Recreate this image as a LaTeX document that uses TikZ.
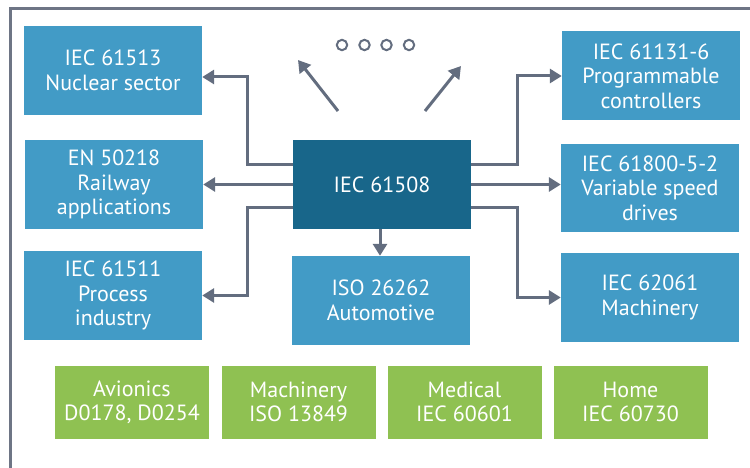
\documentclass[tikz,border=0pt]{standalone}
\usepackage{fontspec}
\setmainfont{PT Sans}
\usetikzlibrary{arrows.meta,calc}
\definecolor{boxblue}{RGB}{66,155,198}
\definecolor{darkblue}{RGB}{24,102,138}
\definecolor{leaf}{RGB}{143,193,82}
\definecolor{arrgray}{RGB}{99,109,127}
\definecolor{framegray}{RGB}{110,117,133}
\begin{document}
\begin{tikzpicture}[x=1pt,y=-1pt,
  stdbox/.style={rectangle,fill=boxblue,text=white,minimum width=178pt,minimum height=89pt,inner sep=0pt,align=center,font=\fontsize{22}{24.5}\selectfont},
  corebox/.style={stdbox,fill=darkblue},
  appbox/.style={rectangle,fill=leaf,text=white,minimum width=154pt,minimum height=73pt,inner sep=0pt,align=center,font=\fontsize{22}{24}\selectfont},
  arr/.style={draw=arrgray,line width=3pt,-{Triangle[length=12pt,width=14pt]}},
  dotc/.style={draw=arrgray,line width=2pt},
  frameline/.style={draw=framegray,line width=3pt}]
\useasboundingbox (0,0) rectangle (750,468);
\draw[frameline] (10,472) |- (754,9);
% boxes
\node[stdbox] (nuc) at (113,70.5) {IEC 61513\\Nuclear sector};
\node[stdbox] (rail) at (114,184.5) {EN 50218\\Railway\\applications};
\node[stdbox] (proc) at (113,295.5) {IEC 61511\\Process\\industry};
\node[corebox] (cen) at (382,184.5) {IEC 61508};
\node[stdbox] (iso) at (381,300.5) {ISO 26262\\Automotive};
\node[stdbox] (plc) at (651,76) {IEC 61131-6\\Programmable\\controllers};
\node[stdbox,minimum height=88pt] (vsd) at (650,188) {IEC 61800-5-2\\Variable speed\\drives};
\node[stdbox] (mach) at (650,297.5) {IEC 62061\\Machinery};
\node[appbox] (av) at (132,402) {Avionics\\D0178, D0254};
\node[appbox] (mc) at (298.5,402) {Machinery\\ISO 13849};
\node[appbox] (md) at (464.5,402) {Medical\\IEC 60601};
\node[appbox] (hm) at (630.5,402) {Home\\IEC 60730};
% connectors
\draw[arr] ([yshift=19.5pt]cen.west) -- ++(-45,0) |- ([yshift=-6.5pt]nuc.east);
\draw[arr] (cen.west) -- (cen.west -| rail.east);
\draw[arr] ([yshift=-22.5pt]cen.west) -- ++(-45,0) |- (proc.east);
\draw[arr] ([yshift=19.5pt]cen.east) -- ++(46,0) |- (plc.west);
\draw[arr] (cen.east) -- (cen.east -| vsd.west);
\draw[arr] ([yshift=-22.5pt]cen.east) -- ++(46,0) |- (mach.west);
\draw[arr] (cen.south -| 380,0) -- (iso.north -| 380,0);
% open-ended arrows
\coordinate (ls) at (338,111);
\coordinate (le) at (298,60);
\coordinate (rs) at (425,111);
\coordinate (re) at (461,66);
\draw[arr] (ls) -- (le);
\draw[arr] (rs) -- (re);
% dots
\foreach \i/\xx in {1/342,2/364.5,3/386.5,4/409}{
  \draw[dotc] (\xx,45) circle (5.2pt);
}
\end{tikzpicture}
\end{document}
